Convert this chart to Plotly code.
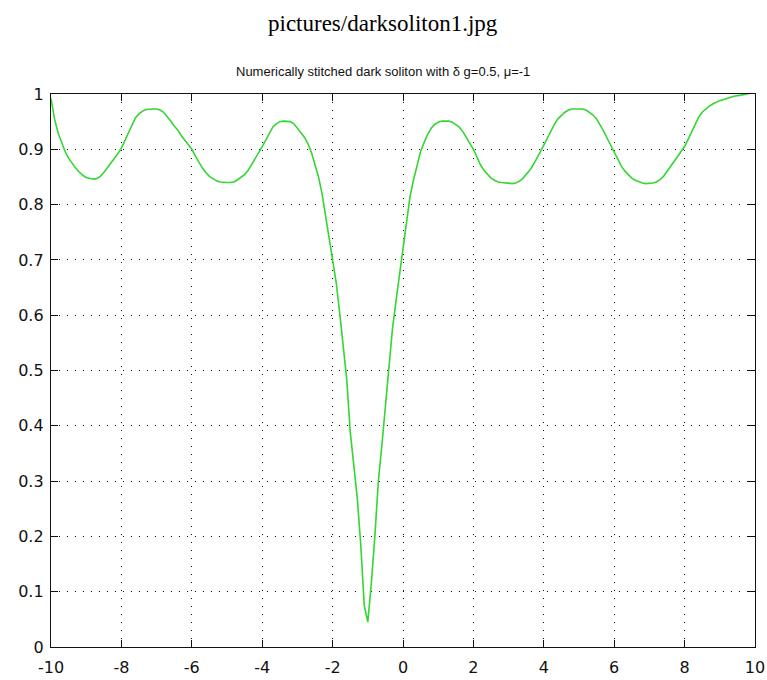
import plotly.graph_objects as go

# Sampled profile |psi|^2 of the stitched dark soliton on x in [-10, 10]
x_vals = [
    -10.0, -9.9, -9.8, -9.7, -9.6, -9.5, -9.4, -9.3, -9.2, -9.1,
    -9.0, -8.9, -8.8, -8.7, -8.6, -8.5, -8.4, -8.3, -8.2, -8.1,
    -8.0, -7.9, -7.8, -7.7, -7.6, -7.5, -7.4, -7.3, -7.2, -7.1,
    -7.0, -6.9, -6.8, -6.7, -6.6, -6.5, -6.4, -6.3, -6.2, -6.1,
    -6.0, -5.9, -5.8, -5.7, -5.6, -5.5, -5.4, -5.3, -5.2, -5.1,
    -5.0, -4.9, -4.8, -4.7, -4.6, -4.5, -4.4, -4.3, -4.2, -4.1,
    -4.0, -3.9, -3.8, -3.7, -3.6, -3.5, -3.4, -3.3, -3.2, -3.1,
    -3.0, -2.9, -2.8, -2.7, -2.6, -2.5, -2.4, -2.3, -2.2, -2.1,
    -2.0, -1.9, -1.8, -1.7, -1.6, -1.5, -1.4, -1.3, -1.2, -1.1,
    -1.0, -0.9, -0.8, -0.7, -0.6, -0.5, -0.4, -0.3, -0.2, -0.1,
    0.0, 0.1, 0.2, 0.3, 0.4, 0.5, 0.6, 0.7, 0.8, 0.9,
    1.0, 1.1, 1.2, 1.3, 1.4, 1.5, 1.6, 1.7, 1.8, 1.9,
    2.0, 2.1, 2.2, 2.3, 2.4, 2.5, 2.6, 2.7, 2.8, 2.9,
    3.0, 3.1, 3.2, 3.3, 3.4, 3.5, 3.6, 3.7, 3.8, 3.9,
    4.0, 4.1, 4.2, 4.3, 4.4, 4.5, 4.6, 4.7, 4.8, 4.9,
    5.0, 5.1, 5.2, 5.3, 5.4, 5.5, 5.6, 5.7, 5.8, 5.9,
    6.0, 6.1, 6.2, 6.3, 6.4, 6.5, 6.6, 6.7, 6.8, 6.9,
    7.0, 7.1, 7.2, 7.3, 7.4, 7.5, 7.6, 7.7, 7.8, 7.9,
    8.0, 8.1, 8.2, 8.3, 8.4, 8.5, 8.6, 8.7, 8.8, 8.9,
    9.0, 9.2, 9.4, 9.6, 9.8, 10.0,
]
density = [
    0.992, 0.955, 0.930, 0.912, 0.896, 0.884, 0.874, 0.866, 0.859, 0.853,
    0.849, 0.847, 0.846, 0.847, 0.851, 0.858, 0.866, 0.874, 0.883, 0.892,
    0.902, 0.916, 0.930, 0.945, 0.957, 0.964, 0.969, 0.972, 0.973, 0.973,
    0.973, 0.971, 0.967, 0.960, 0.951, 0.942, 0.935, 0.925, 0.916, 0.908,
    0.900, 0.888, 0.876, 0.866, 0.858, 0.851, 0.847, 0.843, 0.841, 0.840,
    0.840, 0.840, 0.841, 0.845, 0.849, 0.854, 0.862, 0.872, 0.883, 0.894,
    0.905, 0.917, 0.930, 0.940, 0.946, 0.950, 0.951, 0.951, 0.950, 0.946,
    0.939, 0.930, 0.922, 0.910, 0.894, 0.872, 0.850, 0.820, 0.780, 0.745,
    0.705, 0.660, 0.605, 0.550, 0.485, 0.390, 0.335, 0.270, 0.185, 0.075,
    0.045, 0.115, 0.200, 0.300, 0.365, 0.440, 0.510, 0.575, 0.625, 0.672,
    0.718, 0.775, 0.815, 0.845, 0.872, 0.896, 0.912, 0.927, 0.938, 0.945,
    0.949, 0.951, 0.951, 0.951, 0.949, 0.945, 0.940, 0.932, 0.922, 0.911,
    0.900, 0.886, 0.872, 0.862, 0.854, 0.848, 0.844, 0.841, 0.840, 0.839,
    0.838, 0.838, 0.839, 0.842, 0.847, 0.854, 0.862, 0.872, 0.883, 0.895,
    0.907, 0.920, 0.933, 0.945, 0.955, 0.962, 0.967, 0.971, 0.973, 0.973,
    0.973, 0.973, 0.971, 0.967, 0.962, 0.955, 0.945, 0.933, 0.920, 0.907,
    0.894, 0.881, 0.870, 0.861, 0.854, 0.848, 0.844, 0.841, 0.839, 0.838,
    0.838, 0.839, 0.841, 0.845, 0.851, 0.860, 0.869, 0.878, 0.886, 0.895,
    0.905, 0.918, 0.932, 0.946, 0.958, 0.967, 0.973, 0.978, 0.982, 0.985,
    0.988, 0.992, 0.996, 0.998, 1.001, 1.003,
]

x_ticks = [-10, -8, -6, -4, -2, 0, 2, 4, 6, 8, 10]
x_tick_text = ["-10", "-8", "-6", "-4", "-2", "0", "2", "4", "6", "8", "10"]
y_ticks = [0, 0.1, 0.2, 0.3, 0.4, 0.5, 0.6, 0.7, 0.8, 0.9, 1]
y_tick_text = ["0", "0.1", "0.2", "0.3", "0.4", "0.5", "0.6", "0.7", "0.8", "0.9", "1"]

file_label = "pictures/darksoliton1.jpg"
plot_title = "Numerically stitched dark soliton with \u03b4 g=0.5, \u03bc=-1"

fig = go.Figure()
fig.add_trace(go.Scatter(
    x=x_vals, y=density, mode="lines",
    line=dict(color="#33d633", width=1.6),
    hoverinfo="skip", showlegend=False,
))

tick_font = dict(family="DejaVu Sans", size=16, color="#111111")
axis_common = dict(
    showline=True, linecolor="#111111", linewidth=1.3, mirror="ticks",
    ticks="inside", ticklen=7, tickwidth=1.3, tickcolor="#111111",
    showgrid=True, gridcolor="#111111", gridwidth=1, griddash="1px,7px",
    zeroline=False, tickfont=tick_font, automargin=False,
)

fig.update_xaxes(range=[-10, 10], tickvals=x_ticks, ticktext=x_tick_text,
                 ticklabelstandoff=6, **axis_common)
fig.update_yaxes(range=[0, 1], tickvals=y_ticks, ticktext=y_tick_text,
                 ticklabelstandoff=3, **axis_common)

fig.add_annotation(text=file_label, xref="paper", yref="paper",
                   x=0.4723, y=1.1266, xanchor="center", yanchor="middle",
                   showarrow=False,
                   font=dict(family="Liberation Serif", size=23, color="#000000"))
fig.add_annotation(text=plot_title, xref="paper", yref="paper",
                   x=0.4723, y=1.0398, xanchor="center", yanchor="middle",
                   showarrow=False,
                   font=dict(family="Liberation Sans", size=13, color="#111111"))

fig.update_layout(
    width=767, height=680,
    margin=dict(l=51, r=12, t=94, b=33, autoexpand=False),
    paper_bgcolor="white", plot_bgcolor="white",
)

fig.write_html("out.html")
